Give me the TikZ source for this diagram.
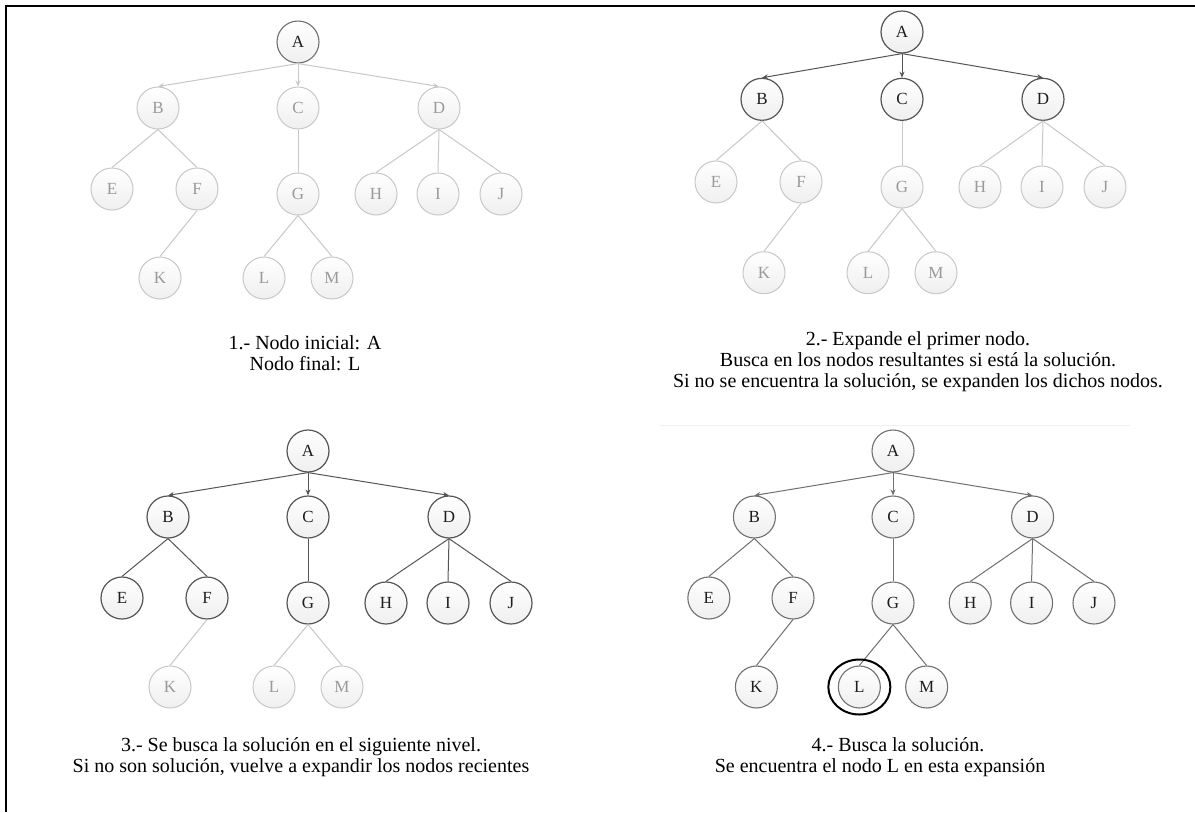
\documentclass[tikz,border=0pt]{standalone}
\usepackage{fontspec}
\setmainfont{Liberation Serif}
\usetikzlibrary{arrows.meta}

\definecolor{ltline}{HTML}{C8C8C8}
\definecolor{lttext}{HTML}{9A9A9A}
\definecolor{dkline}{HTML}{555555}
\definecolor{dktext}{HTML}{1E1E1E}
\definecolor{mdline}{HTML}{707070}
\definecolor{nodefill}{HTML}{EFEFEF}

\tikzset{
  tn/.style={circle, minimum size=42pt, inner sep=0pt, draw=ltline, line width=1pt,
             top color=white, bottom color=nodefill, text=lttext,
             font=\fontsize{17}{17}\selectfont},
  lt/.style={draw=ltline, text=lttext},
  dk/.style={draw=dkline, text=dktext, line width=1.2pt},
  md/.style={draw=mdline, text=dktext, line width=1.1pt},
  ed/.style={draw=ltline, line width=1pt},
  edk/.style={draw=dkline},
  emd/.style={draw=mdline},
  arr/.style={-{Stealth[length=6pt,width=5pt]}},
  captxt/.style={align=center, inner sep=0pt, text=black,
                 font=\fontsize{20}{21}\selectfont},
  nA/.style={}, nB/.style={}, nC/.style={}, nD/.style={}, nE/.style={},
  nF/.style={}, nG/.style={}, nH/.style={}, nI/.style={}, nJ/.style={},
  nK/.style={}, nL/.style={}, nM/.style={},
  eB/.style={}, eC/.style={}, eD/.style={}, eE/.style={}, eF/.style={},
  eG/.style={}, eH/.style={}, eI/.style={}, eJ/.style={}, eK/.style={},
  eL/.style={}, eM/.style={}
}

% one search tree; #1 is the prefix of its node names
\newcommand\searchtree[1]{%
  \node[tn,nA] (#1A) at (0,0) {A};
  \node[tn,nB] (#1B) at (-140,66) {B};
  \node[tn,nC] (#1C) at (0,66) {C};
  \node[tn,nD] (#1D) at (141,66) {D};
  \node[tn,nE] (#1E) at (-186,147) {E};
  \node[tn,nF] (#1F) at (-101,147) {F};
  \node[tn,nG] (#1G) at (0,152) {G};
  \node[tn,nH] (#1H) at (78,152) {H};
  \node[tn,nI] (#1I) at (140,152) {I};
  \node[tn,nJ] (#1J) at (203,152) {J};
  \node[tn,nK] (#1K) at (-138,236) {K};
  \node[tn,nL] (#1L) at (-34,236) {L};
  \node[tn,nM] (#1M) at (34,236) {M};
  \draw[ed,eB,arr] (#1A.south) -- (#1B.north);
  \draw[ed,eC,arr] (#1A.south) -- (#1C.north);
  \draw[ed,eD,arr] (#1A.south) -- (#1D.north);
  \draw[ed,eE] (#1B.south) -- (#1E.north);
  \draw[ed,eF] (#1B.south) -- (#1F.north);
  \draw[ed,eG] (#1C.south) -- (#1G.north);
  \draw[ed,eH] (#1D.south) -- (#1H.north);
  \draw[ed,eI] (#1D.south) -- (#1I.north);
  \draw[ed,eJ] (#1D.south) -- (#1J.north);
  \draw[ed,eK] (#1F.south) -- (#1K.north);
  \draw[ed,eL] (#1G.south) -- (#1L.north);
  \draw[ed,eM] (#1G.south) -- (#1M.north);
}

\begin{document}
\begin{tikzpicture}[x=1pt, y=-1pt]
  \useasboundingbox (0,0) rectangle (1195,812);
  \fill[white] (0,0) rectangle (1195,812);

  % frame: left and top edges
  \draw[line width=2pt] (6,812) -- (6,6) -- (1195,6);

  % 1: initial state
  \begin{scope}[shift={(298,42)}, nA/.style=md]
    \searchtree{p}
  \end{scope}

  % 2: first expansion
  \begin{scope}[shift={(902,32)}, yscale=1.02,
      nA/.style=dk, nB/.style=dk, nC/.style=dk, nD/.style=dk,
      eB/.style=edk, eC/.style=edk, eD/.style=edk]
    \searchtree{q}
  \end{scope}

  % 3: second level expanded
  \begin{scope}[shift={(308,451)},
      nA/.style=dk, nB/.style=dk, nC/.style=dk, nD/.style=dk, nE/.style=dk,
      nF/.style=dk, nG/.style=dk, nH/.style=dk, nI/.style=dk, nJ/.style=dk,
      eB/.style=edk, eC/.style=edk, eD/.style=edk, eE/.style=edk, eF/.style=edk,
      eG/.style=edk, eH/.style=edk, eI/.style=edk, eJ/.style=edk]
    \searchtree{r}
  \end{scope}

  % 4: goal found
  \draw[black!6, line width=0.8pt] (660,425) -- (1130,425);
  \begin{scope}[shift={(893,451)}, xscale=0.99,
      nA/.style=md, nB/.style=md, nC/.style=md, nD/.style=md, nE/.style=md,
      nF/.style=md, nG/.style=md, nH/.style=md, nI/.style=md, nJ/.style=md,
      nK/.style=md, nL/.style=md, nM/.style=md,
      eB/.style=emd, eC/.style=emd, eD/.style=emd, eE/.style=emd, eF/.style=emd,
      eG/.style=emd, eH/.style=emd, eI/.style=emd, eJ/.style=emd, eK/.style=emd,
      eL/.style=emd, eM/.style=emd]
    \searchtree{s}
  \end{scope}
  \draw[line width=2pt] (sL.center) ellipse [x radius=31, y radius=27.5];

  % captions
  \node[captxt] (cap1) at (305,353) {1.- Nodo inicial: A\\Nodo final: L};
  \node[captxt] (cap2) at (918,362) {2.- Expande el primer nodo.\\Busca en los nodos resultantes si está la solución.\\Si no se encuentra la solución, se expanden los dichos nodos.};
  \node[captxt] (cap3) at (301,757) {3.- Se busca la solución en el siguiente nivel.\\Si no son solución, vuelve a expandir los nodos recientes};
  \node[captxt] (cap4) at (880,757) {\hspace*{36pt}4.- Busca la solución.\\Se encuentra el nodo L en esta expansión};
\end{tikzpicture}
\end{document}
